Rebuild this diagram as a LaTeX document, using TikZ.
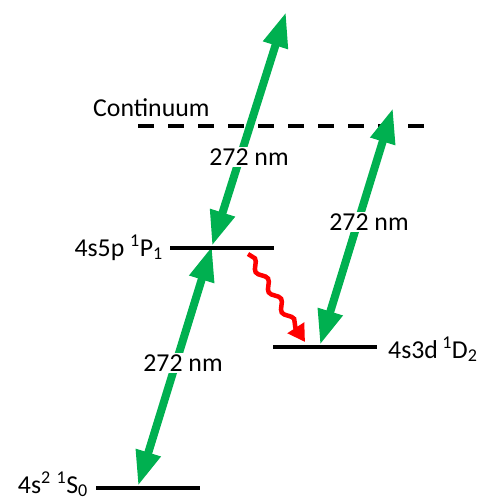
\documentclass[tikz,border=0pt]{standalone}
\usepackage{fontspec}
\setmainfont{Carlito}
\usetikzlibrary{arrows.meta}
\usetikzlibrary{decorations.pathmorphing}
\definecolor{lasergreen}{RGB}{0,176,80}
\definecolor{decayred}{RGB}{255,0,0}

\begin{document}
\begin{tikzpicture}[x=1pt, y=-1pt,
    level/.style={line width=4.5pt, black},
    photon/.style={line width=8pt, lasergreen, {Triangle[length=35pt,width=24pt]}-{Triangle[length=35pt,width=24pt]}},
    decay/.style={line width=4.5pt, decayred, -{Triangle[length=17pt,width=19pt]}, decorate, decoration={snake, amplitude=3.5pt, segment length=24pt, post length=16pt}},
    lbl/.style={font=\fontsize{25.8}{30}\selectfont, inner sep=0pt},
    wl/.style={lbl, fill=white, inner sep=1.5pt}]

    \useasboundingbox (0,0) rectangle (486,502);

    % Level end points
    \coordinate (s1) at (96,488);
    \coordinate (s2) at (200,488);
    \coordinate (p1) at (170,248);
    \coordinate (p2) at (274,248);
    \coordinate (d1) at (273,347);
    \coordinate (d2) at (377,347);
    \coordinate (c1) at (138,126);
    \coordinate (c2) at (430,126);

    % Continuum
    \draw[level, dash pattern=on 16pt off 14pt] (c1) -- (c2);
    \node[lbl, anchor=base west] (cont) at (93,117) {Continuum};

    % Photons (272 nm)
    \coordinate (sA) at (138,486);
    \coordinate (pA) at (212,246);
    \coordinate (out) at (286,12);
    \coordinate (dA) at (320,345);
    \coordinate (cA) at (393,108);
    \draw[photon] (sA) -- (pA);
    \draw[photon] (pA) -- (out);
    \draw[photon] (dA) -- (cA);

    % Decay 4s5p -> 4s3d
    \coordinate (wS) at (248,254);
    \coordinate (wE) at (305,342);
    \draw[decay] (wS) -- (wE);

    % Levels
    \draw[level] (s1) -- (s2);
    \draw[level] (p1) -- (p2);
    \draw[level] (d1) -- (d2);
    \node[lbl, anchor=base east, xshift=-8pt, yshift=-5pt] (sl) at (s1) {4s\textsuperscript{2} \textsuperscript{1}S\textsubscript{0}};
    \node[lbl, anchor=base east, xshift=-7pt, yshift=-8pt] (pl) at (p1) {4s5p \textsuperscript{1}P\textsubscript{1}};
    \node[lbl, anchor=base west, xshift=11pt, yshift=-11pt] (dl) at (d2) {4s3d\,\textsuperscript{1}D\textsubscript{2}};

    % Wavelength labels
    \node[wl] (w1) at (183,363) {272 nm};
    \node[wl] (w2) at (249,157) {272 nm};
    \node[wl] (w3) at (369,222) {272 nm};
\end{tikzpicture}
\end{document}
